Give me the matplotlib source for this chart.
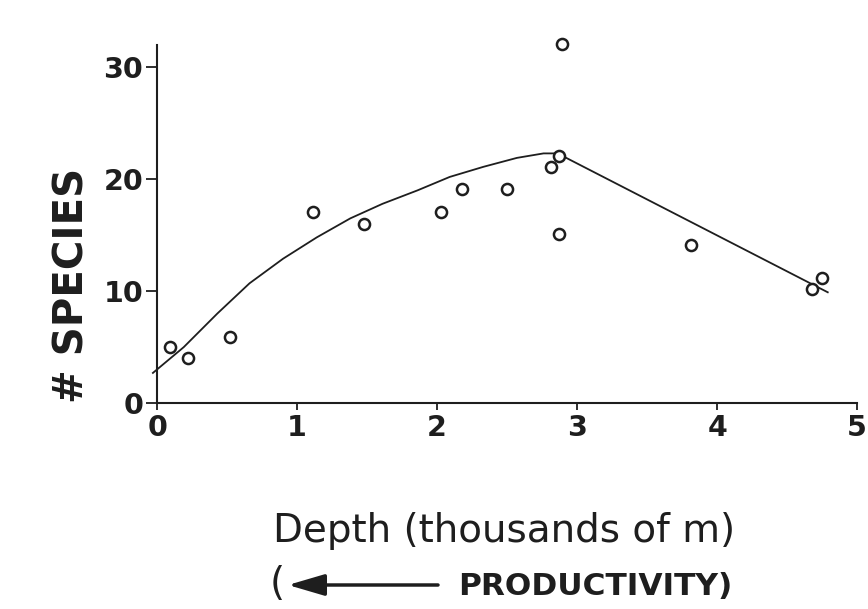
import matplotlib.pyplot as plt

plt.rcParams['font.family'] = ['DejaVu Sans']

# observed species counts vs depth (thousands of m)
depth = [0.09, 0.22, 0.52, 1.11, 1.48, 2.03, 2.18, 2.50, 2.81, 2.87, 2.87, 2.89, 3.81, 4.68, 4.75]
species = [5.0, 4.0, 5.9, 17.1, 16.0, 17.1, 19.1, 19.1, 21.1, 22.1, 15.1, 32.1, 14.1, 10.2, 11.2]

# fitted curve
fit_x = [-0.03, 0.19, 0.43, 0.66, 0.90, 1.14, 1.38, 1.61, 1.86, 2.09, 2.33, 2.57, 2.76, 2.86, 4.79]
fit_y = [2.7, 5.0, 8.0, 10.7, 12.9, 14.8, 16.5, 17.8, 19.0, 20.2, 21.1, 21.9, 22.3, 22.3, 9.9]

x_ticks = [0, 1, 2, 3, 4, 5]
y_ticks = [0, 10, 20, 30]

ink = '#1e1e1e'

fig = plt.figure(figsize=(8.68, 6.09), dpi=100)
ax = fig.add_axes([0.181, 0.338, 0.8065, 0.5885])

ax.plot(fit_x, fit_y, color=ink, lw=1.3, clip_on=False)
ax.plot(depth, species, 'o', mfc='white', mec=ink, ms=8, mew=1.8, clip_on=False, zorder=3)

ax.set_xlim(0, 5)
ax.set_ylim(0, 32)
ax.set_xticks(x_ticks)
ax.set_yticks(y_ticks)
ax.spines['top'].set_visible(False)
ax.spines['right'].set_visible(False)
for s in ('left', 'bottom'):
    ax.spines[s].set_linewidth(1.5)
    ax.spines[s].set_color(ink)
ax.tick_params(axis='y', length=8, width=1.3, color=ink, pad=2)
ax.tick_params(axis='x', length=5, width=1.3, color=ink, pad=3)
for lab in ax.get_xticklabels() + ax.get_yticklabels():
    lab.set_fontsize(20.5)
    lab.set_fontweight('bold')
    lab.set_color(ink)

# y label, placed lower than the axes centre as in the original
fig.text(73 / 868, 1 - 285 / 609, '# SPECIES', fontsize=29, fontweight='bold', color=ink,
         rotation=90, ha='center', va='center')

fig.text(504 / 868, 1 - 542 / 609, 'Depth (thousands of m)', fontsize=28, color=ink,
         ha='center', va='baseline')
fig.text(270 / 868, 1 - 595 / 609, '(', fontsize=28, color=ink, ha='left', va='baseline')
fig.text(458 / 868, 1 - 595 / 609, 'PRODUCTIVITY)', fontsize=22.5, fontweight='bold',
         color=ink, ha='left', va='baseline')
ax.annotate('', xy=(288, 24), xytext=(438, 24), xycoords='figure pixels',
            textcoords='figure pixels',
            arrowprops=dict(arrowstyle='-|>,head_length=1.6,head_width=0.47',
                            mutation_scale=14, lw=2.5, color=ink, shrinkA=0, shrinkB=0))

fig.savefig('out.png', dpi=100, facecolor='white')
